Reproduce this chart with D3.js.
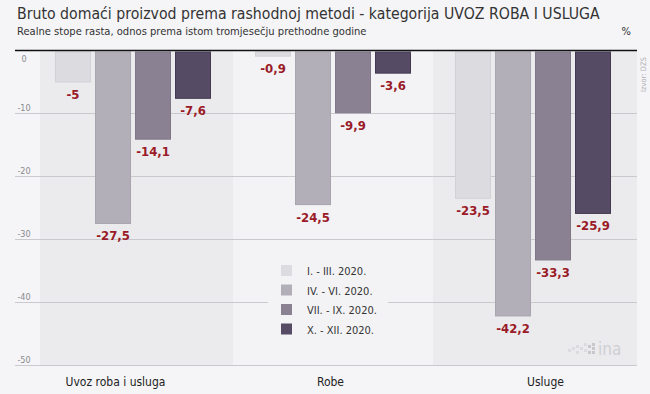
<!DOCTYPE html>
<html>
<head>
<meta charset="utf-8">
<script src="https://cdn.jsdelivr.net/npm/d3@7"></script>
<style>
  html, body { margin: 0; padding: 0; background: #f5f5f7; }
  svg { display: block; font-family: 'DejaVu Sans Condensed', 'DejaVu Sans', sans-serif; }
</style>
</head>
<body>
<svg id="chart" width="650" height="394"></svg>
<script>
const categories = ['Uvoz roba i usluga', 'Robe', 'Usluge'];
const periods = ['I. - III. 2020.', 'IV. - VI. 2020.', 'VII. - IX. 2020.', 'X. - XII. 2020.'];
const q1 = [-5, -0.9, -23.5];
const q2 = [-27.5, -24.5, -42.2];
const q3 = [-14.1, -9.9, -33.3];
const q4 = [-7.6, -3.6, -25.9];
const yTicks = [0, -10, -20, -30, -40, -50];

const colors = ['#dcdbe0', '#b2afb9', '#8a8293', '#554b64'];
const strokes = ['#d2d1d7', '#a8a5af', '#7f7788', '#433952'];
const series = [q1, q2, q3, q4];

const rows = categories.map((c, i) => ({
  cat: c,
  vals: periods.map((p, j) => ({ period: p, value: series[j][i] }))
}));

const width = 650,
  height = 394;

const svg = d3.select('#chart');

const x0 = d3.scaleBand().domain(categories).range([33, 633]);
const x1 = d3.scaleBand().domain(periods).range([22, 178]).paddingInner(0.1);
const xLabel = d3.scaleBand().domain(categories).range([8, 653]);
const y = d3.scaleLinear().domain([-50, 0]).range([365, 50.5]);

// bands
svg
  .append('g')
  .selectAll('rect')
  .data(categories)
  .join('rect')
  .attr('x', (d, i) => (i === 0 ? 40 : x0(d)))
  .attr('width', (d, i) => (i === 0 ? x0(d) + x0.bandwidth() - 40 : i === 2 ? x0.bandwidth() + 4 : x0.bandwidth()))
  .attr('y', y(0))
  .attr('height', y(-50) - y(0))
  .attr('fill', (d, i) => (i === 1 ? '#f3f3f6' : '#ebebee'));

// grid lines
const grid = svg.append('g');
grid
  .selectAll('line')
  .data(yTicks.filter(d => d !== 0))
  .join('line')
  .attr('x1', 15)
  .attr('x2', 637)
  .attr('y1', d => Math.round(y(d)) + 0.5)
  .attr('y2', d => Math.round(y(d)) + 0.5)
  .attr('stroke', '#c9c9ce');

grid
  .selectAll('text')
  .data(yTicks)
  .join('text')
  .attr('x', 24)
  .attr('y', d => (d === 0 ? y(d) + 11 : y(d) - 2))
  .attr('text-anchor', 'middle')
  .attr('font-size', 9)
  .attr('fill', '#8a8a8e')
  .text(d => (d === 0 ? '0' : d));

// legend background
svg
  .append('rect')
  .attr('x', 268)
  .attr('y', 258)
  .attr('width', 120)
  .attr('height', 82)
  .attr('fill', '#f3f3f6');

// bars
const groups = svg
  .append('g')
  .selectAll('g')
  .data(rows)
  .join('g')
  .attr('transform', d => `translate(${x0(d.cat)},0)`);

groups
  .selectAll('rect')
  .data(d => d.vals)
  .join('rect')
  .attr('x', d => x1(d.period) + 0.5)
  .attr('width', x1.bandwidth() - 1)
  .attr('y', y(0) + 1.5)
  .attr('height', d => y(d.value) - y(0) - 1.5)
  .attr('fill', (d, i) => colors[i])
  .attr('stroke', (d, i) => strokes[i]);

groups
  .selectAll('text')
  .data(d => d.vals)
  .join('text')
  .attr('x', d => x1(d.period) + x1.bandwidth() / 2)
  .attr('y', d => y(d.value) + 17)
  .attr('text-anchor', 'middle')
  .attr('font-size', 13)
  .attr('font-weight', 'bold')
  .attr('fill', '#9a1b27')
  .text(d => String(d.value).replace('.', ','));

// top axis line
svg
  .append('line')
  .attr('x1', 15)
  .attr('x2', 637)
  .attr('y1', y(0))
  .attr('y2', y(0))
  .attr('stroke', '#111')
  .attr('stroke-width', 1.5);

// category labels
svg
  .append('g')
  .selectAll('text')
  .data(categories)
  .join('text')
  .attr('x', d => xLabel(d) + xLabel.bandwidth() / 2)
  .attr('y', 386)
  .attr('text-anchor', 'middle')
  .attr('font-size', 12)
  .attr('fill', '#222')
  .text(d => d);

// legend
const legend = svg
  .append('g')
  .selectAll('g')
  .data(periods)
  .join('g')
  .attr('transform', (d, i) => `translate(281,${265 + i * 19.5})`);

legend
  .append('rect')
  .attr('width', 11)
  .attr('height', 11)
  .attr('fill', (d, i) => colors[i]);

legend
  .append('text')
  .attr('x', 26)
  .attr('y', 10)
  .attr('font-size', 11)
  .attr('fill', '#333')
  .text(d => d);

// titles
svg
  .append('text')
  .attr('x', 17)
  .attr('y', 19)
  .attr('font-size', 15.7)
  .attr('fill', '#333')
  .text('Bruto domaći proizvod prema rashodnoj metodi - kategorija UVOZ ROBA I USLUGA');

svg
  .append('text')
  .attr('x', 17)
  .attr('y', 35)
  .attr('font-size', 11.1)
  .attr('fill', '#333')
  .text('Realne stope rasta, odnos prema istom tromjesečju prethodne godine');

svg
  .append('text')
  .attr('x', 631)
  .attr('y', 35)
  .attr('text-anchor', 'end')
  .attr('font-size', 11)
  .attr('fill', '#333')
  .text('%');

// source
svg
  .append('text')
  .attr('transform', 'translate(646,92) rotate(-90)')
  .attr('font-size', 7.5)
  .attr('fill', '#b0b0b4')
  .text('Izvor: DZS');

// logo
const logo = svg.append('g').attr('transform', 'translate(568,343)');
[[0, 6], [4, 4], [8, 2], [8, 8], [12, 4], [16, 0], [16, 6], [20, 2], [20, 8], [24, 0], [24, 4], [24, 8]].forEach(
  ([dx, dy]) => {
    logo
      .append('rect')
      .attr('x', dx)
      .attr('y', dy)
      .attr('width', 3)
      .attr('height', 3)
      .attr('fill', dx > 18 ? '#c8c8cc' : '#dcdce0');
  }
);
logo
  .append('text')
  .attr('x', 30)
  .attr('y', 12)
  .attr('font-size', 17)
  .attr('fill', '#cfcfd3')
  .text('ina');
</script>
</body>
</html>
